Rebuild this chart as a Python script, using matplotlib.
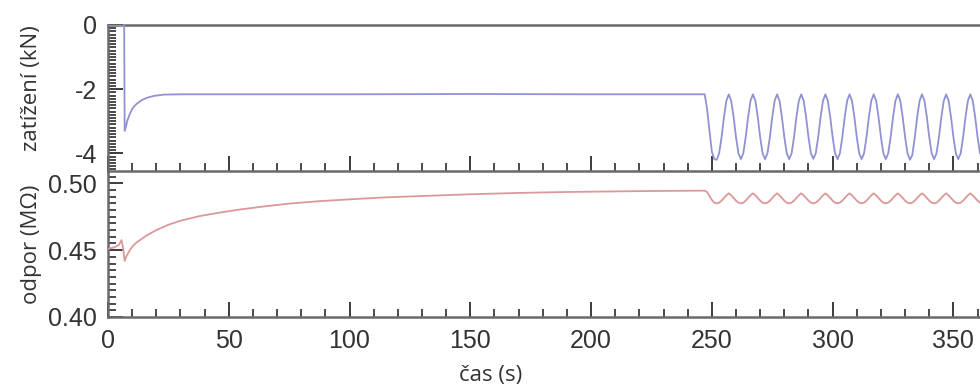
import numpy as np
import matplotlib
matplotlib.use("Agg")
import matplotlib.pyplot as plt
from matplotlib.ticker import MultipleLocator, FormatStrFormatter

# ---------------- data ----------------
# early part: loading step and relaxation
load_t_early = [0, 6.7, 6.9, 7.5, 8.0, 9.0, 10.0, 11.0, 12.0, 14.0, 16.0, 19.0, 23.0, 30.0, 60.0, 100.0, 150.0, 200.0, 247.0]
load_v_early = [0, 0, -3.30, -3.15, -2.98, -2.78, -2.62, -2.52, -2.45, -2.34, -2.27, -2.21, -2.17, -2.16, -2.16, -2.16, -2.15, -2.16, -2.16]

res_t_early = [0, 2.5, 4.5, 5.6, 6.2, 6.9, 7.5, 9.0, 10.5, 12.0, 16.0, 20.0, 25.0, 30.0, 38.0, 46.0, 55.0, 65.0, 75.0,
               88.0, 100.0, 115.0, 130.0, 150.0, 170.0, 190.0, 212.0, 230.0, 247.0]
res_v_early = [0.451, 0.452, 0.454, 0.4575, 0.452, 0.442, 0.445, 0.450, 0.4535, 0.456, 0.461, 0.465, 0.469, 0.472, 0.4755,
               0.478, 0.4805, 0.4828, 0.4848, 0.4867, 0.488, 0.4895, 0.4905, 0.4918, 0.4928, 0.4935, 0.494, 0.4943, 0.4945]

# cyclic part, one sample per second from 248 s to 361 s
osc_t = np.arange(248, 362)
load_osc = [
    -2.60, -3.30, -3.95, -4.18,                                           # 248-251
    -4.20, -4.00, -3.50, -2.87, -2.36, -2.16, -2.36, -2.87, -3.50, -4.00,  # 252-261
    -4.18, -4.00, -3.50, -2.87, -2.36, -2.16, -2.36, -2.87, -3.50, -4.00,  # 262-271
    -4.18, -4.00, -3.50, -2.87, -2.36, -2.16, -2.36, -2.87, -3.50, -4.00,  # 272-281
    -4.18, -4.00, -3.50, -2.87, -2.36, -2.16, -2.36, -2.87, -3.50, -4.00,  # 282-291
    -4.17, -4.00, -3.50, -2.87, -2.36, -2.16, -2.36, -2.87, -3.50, -4.00,  # 292-301
    -4.18, -4.00, -3.50, -2.87, -2.36, -2.16, -2.36, -2.87, -3.50, -4.00,  # 302-311
    -4.18, -4.00, -3.50, -2.87, -2.36, -2.16, -2.36, -2.87, -3.50, -4.00,  # 312-321
    -4.18, -4.00, -3.50, -2.87, -2.36, -2.16, -2.36, -2.87, -3.50, -4.00,  # 322-331
    -4.20, -4.05, -3.50, -2.87, -2.36, -2.16, -2.36, -2.87, -3.50, -4.00,  # 332-341
    -4.18, -4.00, -3.50, -2.87, -2.36, -2.16, -2.36, -2.87, -3.50, -4.00,  # 342-351
    -4.18, -4.00, -3.50, -2.87, -2.36, -2.16, -2.36, -2.87, -3.50, -4.00,  # 352-361
]
res_osc = [
    0.4935, 0.4905, 0.4875, 0.4855,                                                   # 248-251
    0.485, 0.4855, 0.487, 0.489, 0.491, 0.4925, 0.491, 0.489, 0.487, 0.4855,           # 252-261
    0.485, 0.4855, 0.487, 0.489, 0.491, 0.4925, 0.491, 0.489, 0.487, 0.4855,           # 262-271
    0.485, 0.4855, 0.487, 0.489, 0.491, 0.4925, 0.491, 0.489, 0.487, 0.4855,           # 272-281
    0.485, 0.4855, 0.487, 0.489, 0.491, 0.4925, 0.491, 0.489, 0.487, 0.4855,           # 282-291
    0.485, 0.4855, 0.487, 0.489, 0.491, 0.4925, 0.491, 0.489, 0.487, 0.4855,           # 292-301
    0.485, 0.4855, 0.487, 0.489, 0.491, 0.4925, 0.491, 0.489, 0.487, 0.4855,           # 302-311
    0.485, 0.4855, 0.487, 0.489, 0.491, 0.4925, 0.491, 0.489, 0.487, 0.4855,           # 312-321
    0.485, 0.4855, 0.487, 0.489, 0.491, 0.4925, 0.491, 0.489, 0.487, 0.4855,           # 322-331
    0.485, 0.4855, 0.487, 0.489, 0.491, 0.4925, 0.491, 0.489, 0.487, 0.4855,           # 332-341
    0.485, 0.4855, 0.487, 0.489, 0.491, 0.4925, 0.491, 0.489, 0.487, 0.4855,           # 342-351
    0.485, 0.4855, 0.487, 0.489, 0.491, 0.4925, 0.491, 0.489, 0.487, 0.4855,           # 352-361
]

x_ticks = [0, 50, 100, 150, 200, 250, 300, 350]
load_ticks = [0, -2, -4]
res_ticks = [0.40, 0.45, 0.50]

ylabel_top = "zatížení (kN)"
ylabel_bottom = "odpor (MΩ)"
xlabel = "čas (s)"

# ---------------- figure ----------------
plt.rcParams["axes.unicode_minus"] = False
plt.rcParams["font.family"] = ["Liberation Sans", "DejaVu Sans"]

W, H = 980, 391
fig = plt.figure(figsize=(W / 100, H / 100), dpi=100)

left = 108 / W
width = 1 - left
ax1 = fig.add_axes([left, 1 - 171 / H, width, 146 / H])
ax2 = fig.add_axes([left, 1 - 317 / H, width, 146 / H])

load_t = list(load_t_early) + list(osc_t)
load_v = list(load_v_early) + list(load_osc)
res_t = list(res_t_early) + list(osc_t)
res_v = list(res_v_early) + list(res_osc)

ax1.plot(load_t, load_v, color="#8f92d4", lw=1.3, solid_joinstyle="round", zorder=3)
ax2.plot(res_t, res_v, color="#dc9898", lw=1.3, solid_joinstyle="round", zorder=3)

spine_col = "#6a6a6a"
tick_col = "#3c3c3c"
for ax in (ax1, ax2):
    ax.set_xlim(0, 361)
    ax.spines["right"].set_visible(False)
    for s in ("left", "bottom", "top"):
        ax.spines[s].set_color(spine_col)
        ax.spines[s].set_linewidth(1.8)
    ax.xaxis.set_major_locator(MultipleLocator(50))
    ax.xaxis.set_minor_locator(MultipleLocator(10))
    ax.tick_params(axis="both", which="major", direction="in", length=10.5, width=1.4,
                   color=tick_col, labelsize=18, labelcolor="#333333")
    ax.tick_params(axis="both", which="minor", direction="in", length=5.5, width=1.3,
                   color=tick_col)
    ax.tick_params(axis="y", which="both", pad=8)
    ax.tick_params(axis="x", which="both", pad=9)
    ax.tick_params(top=False, right=False, which="both")

ax1.spines["bottom"].set_visible(False)

ax1.set_ylim(-4.55, 0)
ax1.set_yticks(load_ticks)
ax1.yaxis.set_minor_locator(MultipleLocator(0.1))
ax1.tick_params(axis="x", labelbottom=False)

ax2.set_ylim(0.40, 0.5092)
ax2.set_yticks(res_ticks)
ax2.yaxis.set_major_formatter(FormatStrFormatter("%.2f"))
ax2.yaxis.set_minor_locator(MultipleLocator(0.005))
ax2.set_xticks(x_ticks)

lab_font = ["Open Sans", "DejaVu Sans"]
fig.text(32 / W, 1 - 88 / H, ylabel_top, rotation=90, ha="center", va="center",
         fontsize=16, color="#333333", family=lab_font)
fig.text(32 / W, 1 - 244 / H, ylabel_bottom, rotation=90, ha="center", va="center",
         fontsize=16, color="#333333", family=lab_font)
fig.text(491 / W, 1 - 375 / H, xlabel, ha="center", va="center",
         fontsize=16, color="#333333", family=lab_font)

fig.savefig("out.png", dpi=100)
